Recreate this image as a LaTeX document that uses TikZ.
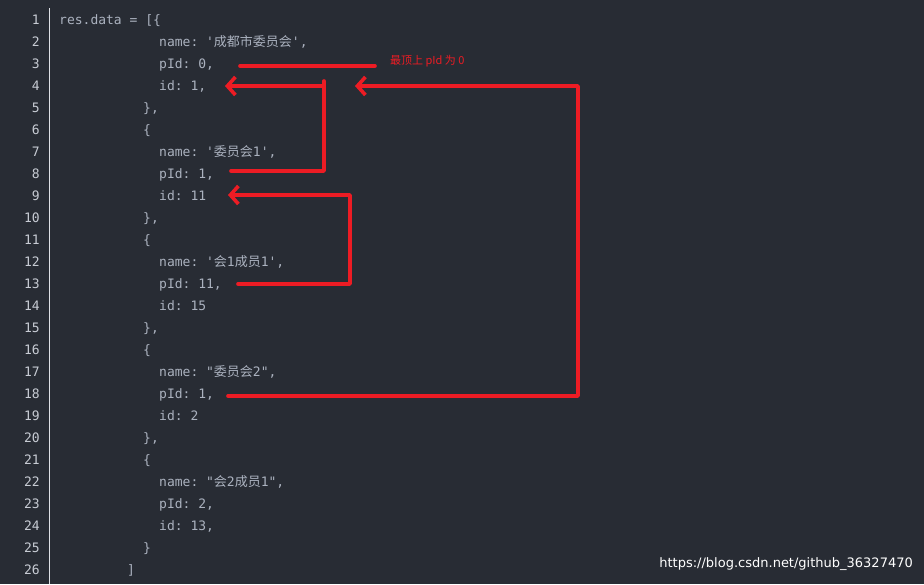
\documentclass[tikz,border=0pt]{standalone}
\usepackage{fontspec}
\setmonofont{DejaVu Sans Mono}
\setsansfont{DejaVu Sans}
\newfontfamily\cjk{Noto Sans CJK SC}
\usetikzlibrary{arrows.meta}
\definecolor{bg}{HTML}{282C34}
\definecolor{code}{HTML}{ABB2BF}
\definecolor{num}{HTML}{C8CCD4}
\definecolor{rd}{HTML}{ED1C24}
\begin{document}
\begin{tikzpicture}[x=1pt,y=-1pt,
  cl/.style={anchor=base west,inner sep=0pt,text=code,font=\ttfamily\fontsize{13}{13}\selectfont},
  ln/.style={anchor=base east,inner sep=0pt,text=num,font=\ttfamily\fontsize{13}{13}\selectfont},
  rline/.style={draw=rd,line width=3.6pt,line cap=round,line join=round},
  rarrow/.style={rline,-{Straight Barb[length=8pt,width=18pt,line width=3.6pt]}}]
\fill[bg] (0,0) rectangle (924,584);
\useasboundingbox (0,0) rectangle (924,584);
\draw[num!60,line width=1pt] (49.5,8) -- (49.5,584);
\foreach \n in {1,...,26}{\node[ln] (n\n) at (40,{24+22*(\n-1)}) {\n};}
\def\Y#1{{24+22*(#1-1)}}
\node[cl] (l1) at (59,\Y1) {res.data = [\{};
\node[cl] (l2) at (159,\Y2) {name: '{\cjk 成都市委员会}',};
\node[cl] (l3) at (159,\Y3) {pId: 0,};
\node[cl] (l4) at (159,\Y4) {id: 1,};
\node[cl] (l5) at (143,\Y5) {\},};
\node[cl] (l6) at (143,\Y6) {\{};
\node[cl] (l7) at (159,\Y7) {name: '{\cjk 委员会}1',};
\node[cl] (l8) at (159,\Y8) {pId: 1,};
\node[cl] (l9) at (159,\Y9) {id: 11};
\node[cl] (l10) at (143,\Y{10}) {\},};
\node[cl] (l11) at (143,\Y{11}) {\{};
\node[cl] (l12) at (159,\Y{12}) {name: '{\cjk 会}1{\cjk 成员}1',};
\node[cl] (l13) at (159,\Y{13}) {pId: 11,};
\node[cl] (l14) at (159,\Y{14}) {id: 15};
\node[cl] (l15) at (143,\Y{15}) {\},};
\node[cl] (l16) at (143,\Y{16}) {\{};
\node[cl] (l17) at (159,\Y{17}) {name: "{\cjk 委员会}2",};
\node[cl] (l18) at (159,\Y{18}) {pId: 1,};
\node[cl] (l19) at (159,\Y{19}) {id: 2};
\node[cl] (l20) at (143,\Y{20}) {\},};
\node[cl] (l21) at (143,\Y{21}) {\{};
\node[cl] (l22) at (159,\Y{22}) {name: "{\cjk 会}2{\cjk 成员}1",};
\node[cl] (l23) at (159,\Y{23}) {pId: 2,};
\node[cl] (l24) at (159,\Y{24}) {id: 13,};
\node[cl] (l25) at (143,\Y{25}) {\}};
\node[cl] (l26) at (127,\Y{26}) {]};
\node[anchor=west,inner sep=0pt,text=rd,font=\cjk\fontsize{11}{11}\selectfont] (note) at (390,61) {最顶上 pId 为 0};
\node[anchor=east,inner sep=0pt,text=white,font=\sffamily\fontsize{13}{13}\selectfont] (wm) at (913,564) {https://blog.csdn.net/github\_36327470};
% connectors
\coordinate (a0) at (240,66); \coordinate (a1) at (375,66);
\draw[rline] (a0) -- (a1);
\coordinate (b0) at (231,171); \coordinate (b1) at (324,171); \coordinate (b2) at (324,81); \coordinate (b3) at (324,86); \coordinate (b4) at (225,86);
\draw[rline] (b0) -- (b1) -- (b2);
\draw[rarrow] (b3) -- (b4);
\coordinate (c0) at (238,284); \coordinate (c1) at (350,284); \coordinate (c2) at (350,195); \coordinate (c3) at (228,195);
\draw[rarrow] (c0) -- (c1) -- (c2) -- (c3);
\coordinate (d0) at (228,396); \coordinate (d1) at (578,396); \coordinate (d2) at (578,86); \coordinate (d3) at (355,86);
\draw[rarrow] (d0) -- (d1) -- (d2) -- (d3);
\end{tikzpicture}
\end{document}
